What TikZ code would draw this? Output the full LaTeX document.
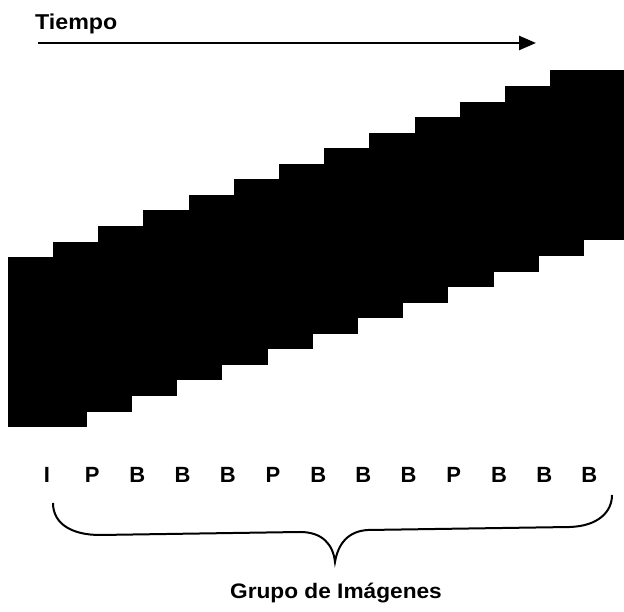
\documentclass[tikz,border=0pt]{standalone}
\usepackage{fontspec}
\setmainfont{Liberation Sans}
\newfontfamily\widefont[FakeStretch=1.08]{Liberation Sans}
\usetikzlibrary{arrows.meta}

\begin{document}
\begin{tikzpicture}[x=1pt,y=1pt,
		frame/.style={fill=black,draw=black,minimum width=78pt,minimum height=169pt,inner sep=0pt,outer sep=0pt},
		tipo/.style={font=\bfseries\fontsize{22}{22}\selectfont,anchor=base,inner sep=0pt}]
			\useasboundingbox (0,0) rectangle (624,612);
			\coordinate (base) at (0,129);
			\foreach \i/\t in {1/I,2/P,3/B,4/B,5/B,6/P,7/B,8/B,9/B,10/P,11/B,12/B,13/B} {
				\node[frame] (f\i) at ({47+45.2*(\i-1)},{270.2+15.55*(\i-1)}) {};
				\node[tipo] (t\i) at (f\i |- base) {\t};
			}
			\node[font=\widefont\bfseries\fontsize{21.5}{21.5}\selectfont,anchor=base west,inner sep=0pt] (tiempo) at (35,582) {Tiempo};
			\coordinate (ini) at (38,569);
			\coordinate (fin) at (536,569);
			\draw[line width=2.5pt,-{Triangle[length=17pt,width=14pt]}] (ini) -- (fin);
			\draw[line width=2pt] (53,109) .. controls (53,88) and (72,77) .. (100,77) -- (300,80) .. controls (322,80) and (333,68) .. (335,50) .. controls (338,68) and (348,81) .. (368,82) -- (570,85) .. controls (598,86) and (612,100) .. (612,117);
			\node[font=\widefont\bfseries\fontsize{21}{21}\selectfont,anchor=base,inner sep=0pt] (grupo) at (336,13) {Grupo de Imágenes};
		\end{tikzpicture}
\end{document}
